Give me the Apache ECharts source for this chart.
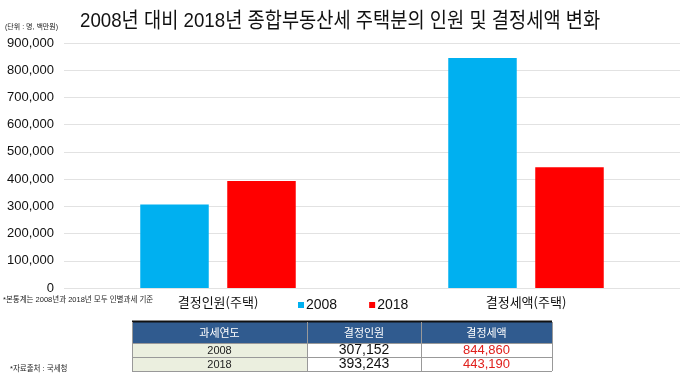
<!DOCTYPE html>
<html><head><meta charset="utf-8">
<script src="https://cdn.jsdelivr.net/npm/echarts@6/dist/echarts.min.js"></script>
<style>html,body{margin:0;padding:0;background:#fff}#c{width:680px;height:379px}</style>
</head><body><div id="c"></div>
<script>
const categories = ['결정인원(주택)', '결정세액(주택)'];
const seriesNames = ['2008', '2018'];
const values2008 = [307152, 844860];
const values2018 = [393243, 443190];
const yTicks = [0, 100000, 200000, 300000, 400000, 500000, 600000, 700000, 800000, 900000];
const tableHeader = ['과세연도', '결정인원', '결정세액'];
const tableYears = ['2008', '2018'];
const tablePersons = [307152, 393243];
const tableTaxes = [844860, 443190];

const FONT = '"Liberation Sans", "Noto Sans CJK KR", sans-serif';
const fmt = v => v.toLocaleString('en-US');

// table geometry
const colX = [132, 307, 421, 552];
const rowY = [322, 343, 357, 371];
const g = [];
g.push({type:'rect', shape:{x:colX[0], y:rowY[0], width:colX[3]-colX[0], height:rowY[1]-rowY[0]}, style:{fill:'#305b8f'}});
g.push({type:'rect', shape:{x:colX[0], y:rowY[1], width:colX[1]-colX[0], height:rowY[3]-rowY[1]}, style:{fill:'#ebefdf'}});
g.push({type:'line', shape:{x1:colX[0], y1:rowY[0]-0.5, x2:colX[3], y2:rowY[0]-0.5}, style:{stroke:'#111', lineWidth:2}});
for (let i=1;i<rowY.length;i++) g.push({type:'line', shape:{x1:colX[0], y1:rowY[i]+0.5, x2:colX[3], y2:rowY[i]+0.5}, style:{stroke:'#999', lineWidth:1}});
for (let j=0;j<colX.length;j++) g.push({type:'line', shape:{x1:colX[j]+0.5, y1:rowY[0], x2:colX[j]+0.5, y2:rowY[3]}, style:{stroke:'#999', lineWidth:1}});
tableHeader.forEach((t,j)=>g.push({type:'text', x:(colX[j]+colX[j+1])/2, y:(rowY[0]+rowY[1])/2, style:{text:t, fill:'#fff', font:'11px "Noto Sans CJK KR"', align:'center', verticalAlign:'middle'}}));
tableYears.forEach((yr,i)=>{
  const cy = (rowY[i+1]+rowY[i+2])/2 + 0.5;
  g.push({type:'text', x:(colX[0]+colX[1])/2, y:cy, style:{text:yr, fill:'#222', font:'11px '+FONT, align:'center', verticalAlign:'middle'}});
  g.push({type:'text', x:(colX[1]+colX[2])/2, y:cy, style:{text:fmt(tablePersons[i]), fill:'#111', font:'14px '+FONT, align:'center', verticalAlign:'middle'}});
  g.push({type:'text', x:(colX[2]+colX[3])/2, y:cy, style:{text:fmt(tableTaxes[i]), fill:'#e0201c', font:'13px '+FONT, align:'center', verticalAlign:'middle'}});
});
// texts
g.push({type:'text', x:80, y:21, scaleX:0.89, style:{text:'2008년 대비 2018년 종합부동산세 주택분의 인원 및 결정세액 변화', fill:'#111', font:'21px '+FONT, verticalAlign:'middle'}});
g.push({type:'text', x:5, y:27, style:{text:'(단위 : 명, 백만원)', fill:'#222', font:'7px '+FONT, verticalAlign:'middle'}});
g.push({type:'text', x:3, y:300, style:{text:'*본통계는 2008년과 2018년 모두 인별과세 기준', fill:'#222', font:'7.5px '+FONT, verticalAlign:'middle'}});
g.push({type:'text', x:10, y:369, style:{text:'*자료출처 : 국세청', fill:'#222', font:'7.5px '+FONT, verticalAlign:'middle'}});

const chart = echarts.init(document.getElementById('c'), null, {renderer:'canvas'});
chart.setOption({
  animation:false,
  textStyle:{fontFamily:FONT},
  grid:{left:64, right:0, top:43, bottom:91, containLabel:false},
  legend:{data:seriesNames, left:293, top:293, itemWidth:6, itemHeight:6, itemGap:32, icon:'rect',
    textStyle:{fontSize:14, color:'#111', fontFamily:FONT, padding:[0,0,0,-3]}},
  xAxis:{type:'category', data:categories, axisLine:{show:false}, axisTick:{show:false},
    axisLabel:{fontSize:13, color:'#111', margin:8, fontFamily:'"Noto Sans CJK KR"'}},
  yAxis:{type:'value', min:yTicks[0], max:yTicks[yTicks.length-1], interval:yTicks[1]-yTicks[0],
    axisLabel:{fontSize:13, color:'#111', margin:10, formatter:v=>fmt(v)},
    splitLine:{lineStyle:{color:'#e2e2e2', width:1}}, axisLine:{show:false}, axisTick:{show:false}},
  series:[
    {name:seriesNames[0], type:'bar', data:values2008, barWidth:68.5, barGap:'27%', itemStyle:{color:'#00b0f0'}},
    {name:seriesNames[1], type:'bar', data:values2018, barWidth:68.5, barGap:'27%', itemStyle:{color:'#ff0000'}}
  ],
  graphic:g
});
</script></body></html>
